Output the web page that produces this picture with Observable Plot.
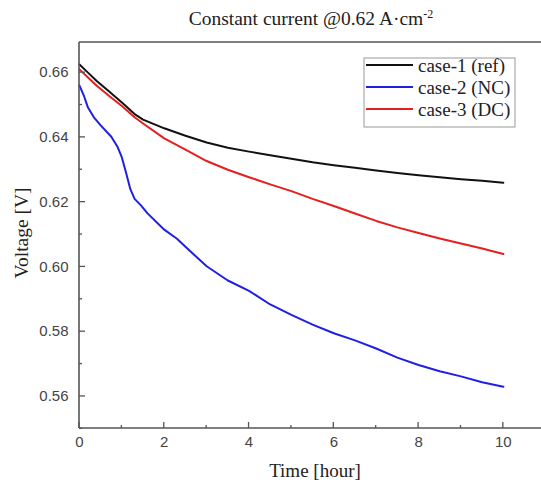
<!DOCTYPE html>
<html>
<head>
<meta charset="utf-8">
<script src="https://cdn.jsdelivr.net/npm/d3@7"></script>
<script src="https://cdn.jsdelivr.net/npm/@observablehq/plot@0.6"></script>
<style>
  html, body { margin: 0; padding: 0; background: #fff; }
  #chart svg { display: block; }
</style>
</head>
<body>
<div id="chart"></div>
<script>
// ---- data ----
const seriesNames = ["case-1 (ref)", "case-2 (NC)", "case-3 (DC)"];
const seriesColors = ["#111111", "#1f1fe6", "#e61e1e"];

const case1Time = [0, 0.2, 0.4, 0.7, 1.0, 1.3, 1.5, 2, 2.5, 3, 3.5, 4, 4.5, 5, 5.5, 6, 6.5, 7, 7.5, 8, 8.5, 9, 9.5, 10];
const case1Volt = [0.6625, 0.6600, 0.6575, 0.6542, 0.6508, 0.6472, 0.6455, 0.6428, 0.6405, 0.6384, 0.6368, 0.6356, 0.6345, 0.6334, 0.6323, 0.6314, 0.6306, 0.6298, 0.6290, 0.6283, 0.6277, 0.6271, 0.6266, 0.6260];

const case2Time = [0, 0.1, 0.2, 0.35, 0.5, 0.75, 0.9, 1.0, 1.1, 1.2, 1.3, 1.45, 1.6, 2, 2.3, 2.5, 3, 3.5, 4, 4.5, 5, 5.5, 6, 6.5, 7, 7.5, 8, 8.5, 9, 9.5, 10];
const case2Volt = [0.6560, 0.6530, 0.6492, 0.6460, 0.6437, 0.6402, 0.6370, 0.6338, 0.6290, 0.6240, 0.6210, 0.6190, 0.6166, 0.6115, 0.6087, 0.6062, 0.6002, 0.5958, 0.5926, 0.5884, 0.5852, 0.5822, 0.5795, 0.5773, 0.5748, 0.5720, 0.5697, 0.5678, 0.5662, 0.5644, 0.5630];

const case3Time = [0, 0.2, 0.4, 0.7, 1.0, 1.3, 1.5, 2, 2.5, 3, 3.5, 4, 4.5, 5, 5.5, 6, 6.5, 7, 7.5, 8, 8.5, 9, 9.5, 10];
const case3Volt = [0.6610, 0.6585, 0.6560, 0.6528, 0.6497, 0.6462, 0.6443, 0.6397, 0.6362, 0.6327, 0.6300, 0.6277, 0.6255, 0.6234, 0.6210, 0.6188, 0.6165, 0.6142, 0.6122, 0.6105, 0.6088, 0.6072, 0.6057, 0.6040];

const xMajorTicks = [0, 2, 4, 6, 8, 10];
const xMinorTicks = [1, 3, 5, 7, 9];
const yMajorTicks = [0.56, 0.58, 0.60, 0.62, 0.64, 0.66];
const yMinorTicks = [0.55, 0.57, 0.59, 0.61, 0.63, 0.65];
const xDomain = [0, 10.9];
const yDomain = [0.5501, 0.6693];

const titleMain = "Constant current @0.62 A·cm";
const titleSup = "-2";
const xLabel = "Time [hour]";
const yLabel = "Voltage [V]";

// ---- build table ----
const rows = [];
[[case1Time, case1Volt], [case2Time, case2Volt], [case3Time, case3Volt]].forEach(([t, v], i) => {
  t.forEach((ti, j) => rows.push({series: seriesNames[i], time: ti, volt: v[j]}));
});

const W = 541, H = 485;
const serif = "'Liberation Serif', 'Times New Roman', serif";
const sans = "'Liberation Sans', Arial, sans-serif";
const axisColor = "#555";

const plot = Plot.plot({
  width: W,
  height: H,
  marginLeft: 79,
  marginRight: 0,
  marginTop: 42,
  marginBottom: 57,
  style: {fontFamily: sans, fontSize: "15px", color: "#444", background: "#fff"},
  x: {domain: xDomain},
  y: {domain: yDomain},
  color: {domain: seriesNames, range: seriesColors},
  marks: [
    Plot.axisX({ticks: xMajorTicks, tickSize: 0, tickPadding: 8, label: null, tickFormat: d => String(d)}),
    Plot.axisY({ticks: yMajorTicks, tickSize: 0, tickPadding: 11, label: null, tickFormat: d3.format(".2f")}),
    Plot.line(rows, {x: "time", y: "volt", z: "series", stroke: "series", strokeWidth: 2})
  ]
});

const svg = d3.select(plot);
const xs = plot.scale("x"), ys = plot.scale("y");
const x0 = xs.apply(xDomain[0]), x1 = W;
const yT = ys.apply(yDomain[1]), yB = ys.apply(yDomain[0]);

const g = svg.append("g").attr("stroke", axisColor).attr("fill", "none");
// frame (left, top, bottom)
g.append("line").attr("x1", x0).attr("x2", x0).attr("y1", yT).attr("y2", yB).attr("stroke-width", 1.6);
g.append("line").attr("x1", x0).attr("x2", x1).attr("y1", yT).attr("y2", yT).attr("stroke-width", 1.6);
g.append("line").attr("x1", x0).attr("x2", x1).attr("y1", yB).attr("y2", yB).attr("stroke-width", 1.6);
// inward ticks
xMajorTicks.forEach(t => g.append("line").attr("x1", xs.apply(t)).attr("x2", xs.apply(t)).attr("y1", yB).attr("y2", yB - 6).attr("stroke-width", 1.3));
xMinorTicks.forEach(t => g.append("line").attr("x1", xs.apply(t)).attr("x2", xs.apply(t)).attr("y1", yB).attr("y2", yB - 3).attr("stroke-width", 1.3));
yMajorTicks.forEach(t => g.append("line").attr("y1", ys.apply(t)).attr("y2", ys.apply(t)).attr("x1", x0).attr("x2", x0 + 6).attr("stroke-width", 1.3));
yMinorTicks.forEach(t => g.append("line").attr("y1", ys.apply(t)).attr("y2", ys.apply(t)).attr("x1", x0).attr("x2", x0 + 3).attr("stroke-width", 1.3));

// title
const title = svg.append("text")
  .attr("x", 311).attr("y", 25)
  .attr("text-anchor", "middle")
  .attr("font-family", serif).attr("font-size", 19.5).attr("fill", "#222");
title.append("tspan").text(titleMain);
title.append("tspan").attr("dy", -7).attr("font-size", 12).text(titleSup);

// axis labels
svg.append("text")
  .attr("x", 315).attr("y", 477)
  .attr("text-anchor", "middle")
  .attr("font-family", serif).attr("font-size", 19).attr("fill", "#222")
  .text(xLabel);
svg.append("text")
  .attr("transform", "translate(28,233) rotate(-90)")
  .attr("text-anchor", "middle")
  .attr("font-family", serif).attr("font-size", 19.5).attr("fill", "#222")
  .text(yLabel);

// legend
const lg = svg.append("g");
lg.append("rect").attr("x", 364).attr("y", 58).attr("width", 151).attr("height", 69)
  .attr("fill", "#fff").attr("stroke", "#999").attr("stroke-width", 1);
seriesNames.forEach((name, i) => {
  const yy = 65 + i * 22;
  lg.append("line").attr("x1", 366).attr("x2", 413).attr("y1", yy).attr("y2", yy)
    .attr("stroke", seriesColors[i]).attr("stroke-width", 2);
  lg.append("text").attr("x", 418).attr("y", yy + 6.5)
    .attr("text-anchor", "start")
    .attr("font-family", serif).attr("font-size", 19).attr("fill", "#222")
    .text(name);
});

document.getElementById("chart").appendChild(plot);
</script>
</body>
</html>
